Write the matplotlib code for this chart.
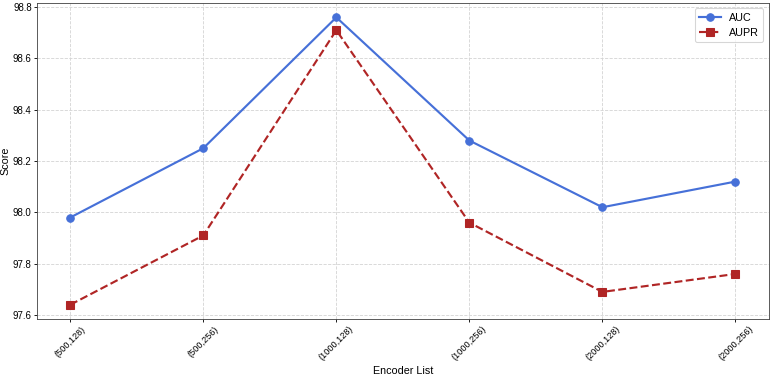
import matplotlib
matplotlib.use("Agg")
import matplotlib.pyplot as plt

encoders = ["(500,128)", "(500,256)", "(1000,128)", "(1000,256)", "(2000,128)", "(2000,256)"]
auc = [97.98, 98.25, 98.76, 98.28, 98.02, 98.12]
aupr = [97.64, 97.91, 98.71, 97.96, 97.69, 97.76]

plt.rcParams["font.family"] = ["Liberation Sans", "DejaVu Sans"]
plt.rcParams["font.size"] = 10

# drawn at 10in wide and scaled down via dpi, like the original
fig, ax = plt.subplots(figsize=(10, 4.864), dpi=77.1)
fig.subplots_adjust(left=0.048, right=0.997, top=0.992, bottom=0.149)

ax.plot(encoders, auc, color="#4670d8", marker="o", linestyle="-",
        linewidth=2, markersize=7, label="AUC")
ax.plot(encoders, aupr, color="#b02525", marker="s", linestyle="--",
        linewidth=2, markersize=7, label="AUPR")

ax.grid(True, linestyle="--", color="#d5d5d5", linewidth=0.8)
ax.set_xlabel("Encoder List", labelpad=3)
ax.set_ylabel("Score", labelpad=2)
ax.tick_params(axis="x", rotation=45, labelsize=8.5, length=3, pad=2)
ax.tick_params(axis="y", labelsize=9, length=3, pad=2)
for sp in ax.spines.values():
    sp.set_color("#444444")

ax.legend(loc="upper right")

fig.savefig("out.png", dpi=77.1)
plt.close()
